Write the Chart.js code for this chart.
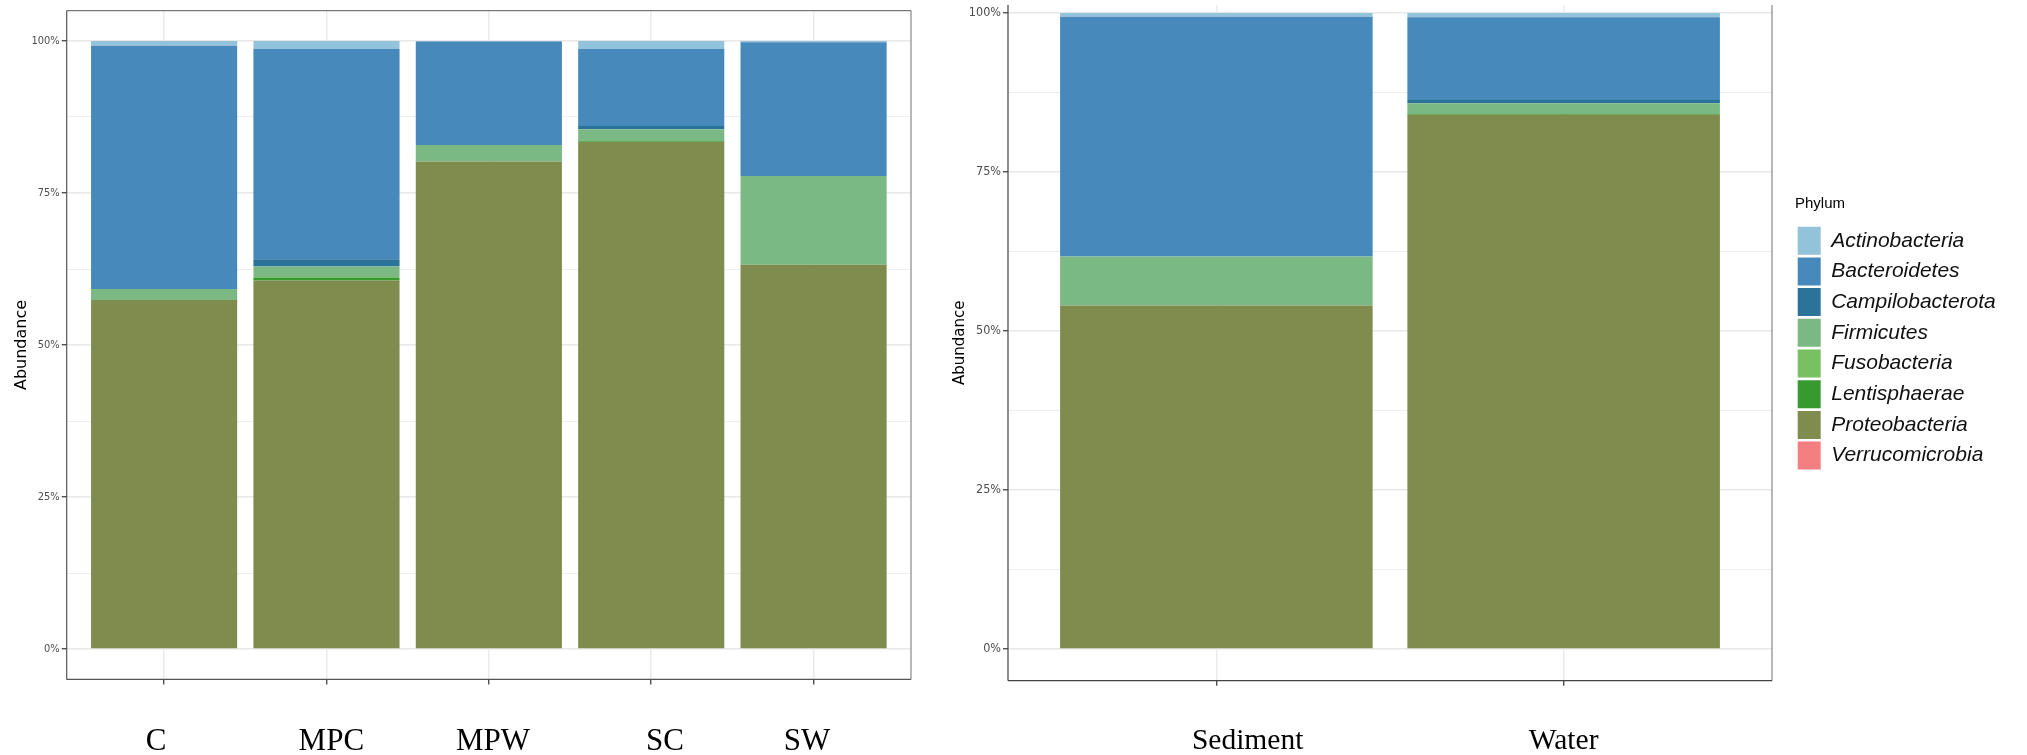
<!DOCTYPE html>
<html>
<head>
    <title>Phylum abundance</title>
    <script src="https://cdn.jsdelivr.net/npm/chart.js"></script>
    <style>
        body {
            margin: 0;
            padding: 0;
            background: #fff;
        }
        #wrap {
            position: relative;
            width: 2027px;
            height: 755px;
        }
        canvas {
            position: absolute;
            top: 0;
        }
        #left { left: 0; }
        #right { left: 930px; }
    </style>
</head>
<body>

<div id="wrap">
    <canvas id="left" width="930" height="755"></canvas>
    <canvas id="right" width="1065" height="755"></canvas>
</div>

<script>
    // categories
    var sites = ['C', 'MPC', 'MPW', 'SC', 'SW'];
    var habitats = ['Sediment', 'Water'];
    // the sample names sit a little off their tick in the original figure (category units)
    var siteLabelShift = [-0.05, 0.03, 0.025, 0.085, -0.04];
    var habitatLabelShift = [0.09, 0];

    // phyla, bottom of the stack first
    var phyla = ['Verrucomicrobia', 'Proteobacteria', 'Lentisphaerae', 'Fusobacteria',
                 'Firmicutes', 'Campilobacterota', 'Bacteroidetes', 'Actinobacteria'];
    var colours = ['#f47f80', '#7f8c4d', '#37992f', '#79c063',
                   '#7ab884', '#2c739a', '#4789bb', '#93c2db'];

    // abundance (%) by site
    var siteVerruco  = [0, 0, 0, 0, 0];
    var siteProteo   = [57.4, 60.6, 80.2, 83.4, 63.2];
    var siteLenti    = [0, 0.4, 0, 0.1, 0];
    var siteFuso     = [0, 0.2, 0, 0, 0];
    var siteFirm     = [1.8, 1.7, 2.7, 2.0, 14.6];
    var siteCampi    = [0, 1.2, 0, 0.5, 0];
    var siteBactero  = [40.0, 34.6, 17.0, 12.7, 22.0];
    var siteActino   = [0.8, 1.3, 0.1, 1.3, 0.2];

    // abundance (%) by habitat
    var habVerruco  = [0, 0];
    var habProteo   = [54.0, 84.0];
    var habLenti    = [0, 0.2];
    var habFuso     = [0, 0];
    var habFirm     = [7.7, 1.6];
    var habCampi    = [0, 0.5];
    var habBactero  = [37.7, 13.0];
    var habActino   = [0.6, 0.7];

    // y gridlines (major ones get a label)
    var yGrid = [0, 12.5, 25, 37.5, 50, 62.5, 75, 87.5, 100];
    var yLabelled = [0, 25, 50, 75, 100];

    var siteSeries = [siteVerruco, siteProteo, siteLenti, siteFuso, siteFirm, siteCampi, siteBactero, siteActino];
    var habSeries = [habVerruco, habProteo, habLenti, habFuso, habFirm, habCampi, habBactero, habActino];

    function makeDatasets(series) {
        return series.map(function (vals, k) {
            return {
                label: phyla[k],
                data: vals.map(function (v, i) { return {x: i + 1, y: v}; }),
                backgroundColor: colours[k],
                borderWidth: 0
            };
        });
    }

    function isMajor(ctx) {
        return ctx.tick && yLabelled.indexOf(ctx.tick.value) !== -1;
    }

    function noPad(s) {
        s.paddingTop = 0; s.paddingBottom = 0; s.paddingLeft = 0; s.paddingRight = 0;
    }

    // panel frame
    var framePlugin = {
        id: 'frame',
        afterDraw: function (chart, args, opts) {
            var ctx = chart.ctx, a = chart.chartArea;
            ctx.save();
            ctx.lineWidth = 1.2;
            opts.sides.forEach(function (s) {
                ctx.strokeStyle = s[1];
                ctx.beginPath();
                if (s[0] === 'left') { ctx.moveTo(a.left, a.top); ctx.lineTo(a.left, a.bottom); }
                if (s[0] === 'right') { ctx.moveTo(a.right, a.top); ctx.lineTo(a.right, a.bottom); }
                if (s[0] === 'top') { ctx.moveTo(a.left, a.top); ctx.lineTo(a.right, a.top); }
                if (s[0] === 'bottom') { ctx.moveTo(a.left, a.bottom); ctx.lineTo(a.right, a.bottom); }
                ctx.stroke();
            });
            ctx.restore();
        }
    };

    function makeScales(cats, shift, cfg) {
        return {
            // data axis: vertical gridlines and tick marks
            x: {
                type: 'linear',
                stacked: true,
                min: 0.4,
                max: cats.length + 0.6,
                offset: false,
                weight: 0,
                afterBuildTicks: function (s) {
                    s.ticks = cats.map(function (c, i) { return {value: i + 1}; });
                },
                afterFit: function (s) { s.height = 0; noPad(s); },
                border: {display: false},
                grid: {
                    offset: false,
                    color: '#ebebeb',
                    lineWidth: 1.5,
                    tickColor: '#333',
                    tickLength: 5,
                    tickWidth: 1.2
                },
                ticks: {display: false}
            },
            // label axis: sample names
            xl: {
                type: 'linear',
                position: 'bottom',
                min: 0.4,
                max: cats.length + 0.6,
                offset: false,
                weight: 1,
                afterBuildTicks: function (s) {
                    s.ticks = cats.map(function (c, i) { return {value: i + 1 + shift[i]}; });
                },
                afterFit: function (s) { s.height = cfg.xHeight; noPad(s); },
                border: {display: false},
                grid: {display: false, drawTicks: false},
                ticks: {
                    padding: cfg.xPad,
                    color: '#000',
                    maxRotation: 0,
                    autoSkip: false,
                    font: {family: "'Liberation Serif', 'Times New Roman', serif", size: cfg.xSize},
                    callback: function (v, i) { return cats[i]; }
                }
            },
            y: {
                stacked: true,
                min: -5,
                max: cfg.yMax,
                afterBuildTicks: function (s) {
                    s.ticks = yGrid.map(function (v) { return {value: v}; });
                },
                afterFit: function (s) { s.width = cfg.yWidth; noPad(s); },
                border: {display: false},
                grid: {
                    color: function (c) { return isMajor(c) ? '#e8e8e8' : '#efefef'; },
                    lineWidth: function (c) { return isMajor(c) ? 1.5 : 1; },
                    tickColor: function (c) { return isMajor(c) ? '#333' : 'rgba(0,0,0,0)'; },
                    tickLength: 5,
                    tickWidth: 1.2
                },
                ticks: {
                    padding: 2,
                    color: '#4d4d4d',
                    autoSkip: false,
                    font: {family: "'DejaVu Sans Condensed', 'Liberation Sans', sans-serif", size: cfg.tickSize},
                    callback: function (v) { return yLabelled.indexOf(v) !== -1 ? v + '%' : ''; }
                },
                title: {
                    display: true,
                    text: 'Abundance',
                    color: '#000',
                    padding: {top: cfg.titlePad, bottom: 0},
                    font: {family: "'DejaVu Sans', sans-serif", size: cfg.titleSize}
                }
            }
        };
    }

    var leftScales = makeScales(sites, siteLabelShift, {
        xHeight: 75.6, xPad: 44, xSize: 31, yWidth: 66.7, yMax: 105, tickSize: 11, titleSize: 16, titlePad: 12
    });
    new Chart(document.getElementById('left'), {
        type: 'bar',
        data: {datasets: makeDatasets(siteSeries)},
        options: {
            responsive: false,
            animation: false,
            layout: {padding: {top: 10.6, right: 19, bottom: 0, left: 0}},
            datasets: {bar: {categoryPercentage: 0.9, barPercentage: 1}},
            scales: leftScales,
            plugins: {
                legend: {display: false},
                tooltip: {enabled: false},
                frame: {sides: [['left', '#555'], ['top', '#777'], ['right', '#888'], ['bottom', '#555']]}
            }
        },
        plugins: [framePlugin]
    });

    var rightScales = makeScales(habitats, habitatLabelShift, {
        xHeight: 74.3, xPad: 43, xSize: 29.5, yWidth: 78, yMax: 101.24, tickSize: 12.5, titleSize: 15, titlePad: 21
    });
    // empty axis that only leaves room between panel and legend
    rightScales.gap = {
        position: 'right',
        display: true,
        afterFit: function (s) { s.width = 23; noPad(s); },
        grid: {display: false},
        border: {display: false},
        ticks: {display: false}
    };
    new Chart(document.getElementById('right'), {
        type: 'bar',
        data: {datasets: makeDatasets(habSeries)},
        options: {
            responsive: false,
            animation: false,
            layout: {padding: {top: 5, right: 0, bottom: 0, left: 0}},
            datasets: {bar: {categoryPercentage: 0.9, barPercentage: 1}},
            scales: rightScales,
            plugins: {
                legend: {
                    position: 'right',
                    align: 'start',
                    fullSize: false,
                    reverse: true,
                    maxWidth: 200,
                    title: {
                        display: true,
                        text: 'Phylum',
                        position: 'start',
                        color: '#000',
                        padding: {top: 191.5, bottom: 9.5},
                        font: {family: "'Liberation Sans', Arial, sans-serif", size: 15}
                    },
                    labels: {
                        boxWidth: 23,
                        boxHeight: 28,
                        padding: 2.7,
                        color: '#111',
                        font: {family: "'Liberation Sans', Arial, sans-serif", size: 21, style: 'italic'}
                    }
                },
                tooltip: {enabled: false},
                frame: {sides: [['left', '#444'], ['right', '#888'], ['bottom', '#444']]}
            }
        },
        plugins: [framePlugin]
    });
</script>

</body>
</html>
